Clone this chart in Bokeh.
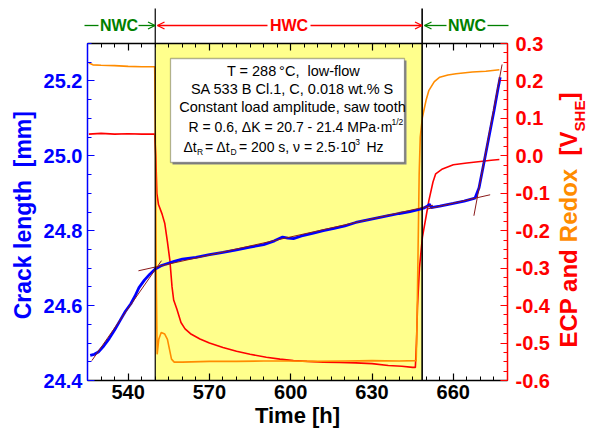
import math
from bokeh.plotting import figure
from bokeh.models import (Range1d, LinearAxis, FixedTicker, PrintfTickFormatter,
                          BoxAnnotation, Label)
from bokeh.core.properties import value
from bokeh.embed import file_html
from bokeh.resources import INLINE

# ---------------- data ----------------
crack_t = [526.0, 527.5, 529.0, 531.0, 533.0, 535.0, 537.0, 539.0, 541.0, 542.5,
           544.0, 546.0, 548.0, 550.0, 552.0, 554.0, 557.0, 560.0, 565.0, 570.0,
           575.0, 580.0, 585.0, 590.0, 594.0, 597.0, 599.0, 601.0, 604.0, 608.0,
           612.0, 616.0, 620.0, 624.0, 628.0, 632.0, 636.0, 640.0, 644.0, 647.0,
           649.0, 650.5, 651.2, 651.8, 655.0, 660.0, 664.0, 668.0, 669.5, 671.0,
           673.0, 675.0, 676.5, 677.3]
crack_mm = [24.467, 24.470, 24.476, 24.492, 24.512, 24.535, 24.560, 24.585, 24.605, 24.625,
            24.648, 24.668, 24.684, 24.698, 24.706, 24.711, 24.718, 24.724, 24.729, 24.736,
            24.742, 24.749, 24.756, 24.763, 24.773, 24.783, 24.780, 24.779, 24.786, 24.793,
            24.800, 24.806, 24.813, 24.822, 24.828, 24.834, 24.840, 24.846, 24.851, 24.856,
            24.860, 24.866, 24.871, 24.862, 24.866, 24.873, 24.879, 24.887, 24.915, 24.970,
            25.045, 25.120, 25.180, 25.210]

# linear fits (start time, start mm, end time, end mm)
fit_t0 = [526.6, 543.8, 650.4, 667.6]
fit_y0 = [24.453, 24.693, 24.858, 24.840]
fit_t1 = [552.3, 652.5, 673.6, 678.0]
fit_y1 = [24.720, 24.868, 24.896, 25.244]

ecp_t = [525.5, 530, 535, 540, 545, 549.8, 550.2, 550.6, 551.2, 552.5, 553.5, 554.5,
         555.4, 556.2, 556.8, 558, 559.5, 561, 563, 566.5, 570, 575, 580, 585, 591,
         596, 601, 606, 612, 618, 624, 630, 636, 641, 645, 646.0, 646.4, 646.8, 647.5,
         648.6, 650, 651, 652.5, 653.5, 656, 660, 665, 670, 674, 677]
ecp_v = [0.058, 0.060, 0.058, 0.059, 0.058, 0.058, 0.0, -0.10, -0.13, -0.155, -0.18, -0.23,
         -0.279, -0.35, -0.385, -0.41, -0.445, -0.462, -0.475, -0.489, -0.50, -0.512, -0.522,
         -0.530, -0.538, -0.543, -0.547, -0.549, -0.551, -0.552, -0.553, -0.555, -0.560,
         -0.562, -0.565, -0.565, -0.50, -0.40, -0.30, -0.217, -0.16, -0.119, -0.07, -0.048,
         -0.035, -0.024, -0.019, -0.015, -0.012, -0.010]

redox_t = [525.5, 527, 530, 535, 540, 545, 549.8, 550.1, 550.4, 550.7, 551.3, 552.2,
           553.5, 554.5, 555.2, 556, 557, 560, 570, 580, 590, 600, 610, 620, 630, 640,
           646.3, 646.6, 647.0, 647.4, 647.8, 648.6, 650, 651, 653, 655, 658, 661, 667,
           672, 677]
redox_v = [0.248, 0.243, 0.242, 0.241, 0.239, 0.238, 0.238, 0.0, -0.35, -0.53, -0.49, -0.472,
           -0.476, -0.49, -0.515, -0.543, -0.551, -0.551, -0.549, -0.549, -0.548, -0.548,
           -0.549, -0.548, -0.547, -0.548, -0.547, -0.45, -0.25, -0.05, 0.05, 0.103, 0.15,
           0.175, 0.198, 0.21, 0.216, 0.219, 0.224, 0.226, 0.230]

hwc_start, hwc_end = 550.0, 648.5

x_ticks = [540, 570, 600, 630, 660]
x_minor = [525 + 5 * i for i in range(32)]
left_ticks = [24.4, 24.6, 24.8, 25.0, 25.2]
left_minor = [round(24.4 + 0.05 * i, 3) for i in range(19)]
right_ticks = [-0.6, -0.5, -0.4, -0.3, -0.2, -0.1, 0.0, 0.1, 0.2, 0.3]
right_minor = [round(-0.6 + 0.025 * i, 4) for i in range(37)]

X0, X1 = 525.0, 680.0
Y0, Y1 = 24.4, 25.3
R0, R1 = -0.6, 0.3

# ---------------- layout helpers (canvas px -> data) ----------------
W, H = 590, 436
FL, FR, FT, FB = 87, 507, 43, 380
def px2x(px):
    return X0 + (px - FL) * (X1 - X0) / (FR - FL)
def py2y(py):
    return Y1 - (py - FT) * (Y1 - Y0) / (FB - FT)
DXPX = (X1 - X0) / (FR - FL)
DYPX = (Y1 - Y0) / (FB - FT)

FONT = "Liberation Sans"
BLUE, RED, ORANGE, GREEN, BROWN = "#0000FF", "#FF0000", "#FF8C00", "#008000", "#8B1A1A"

p = figure(width=W, height=H, output_backend="svg", toolbar_location=None,
           x_range=Range1d(X0, X1), y_range=Range1d(Y0, Y1),
           min_border_left=FL, min_border_right=W - FR, min_border_top=FT,
           min_border_bottom=H - FB)
p.extra_y_ranges = {"ecp": Range1d(R0, R1)}
p.outline_line_color = None
p.xgrid.visible = False
p.ygrid.visible = False
p.background_fill_color = "white"
p.border_fill_color = "white"

# HWC shaded period
p.add_layout(BoxAnnotation(left=hwc_start, right=hwc_end, fill_color="#FFFF8C",
                           fill_alpha=1.0, line_color=None, level="underlay"))

# data lines
p.line(ecp_t, ecp_v, y_range_name="ecp", line_color=RED, line_width=1.6)
p.line(redox_t, redox_v, y_range_name="ecp", line_color=ORANGE, line_width=1.6)
p.line(crack_t, crack_mm, line_color=BLUE, line_width=2.8)
p.segment(x0=fit_t0, y0=fit_y0, x1=fit_t1, y1=fit_y1, line_color=BROWN, line_width=1.0)

# axes
def style_axis(ax, color, ticks, minor, standoff):
    ax.ticker = FixedTicker(ticks=ticks, minor_ticks=minor)
    ax.axis_line_color = color
    ax.major_tick_line_color = color
    ax.minor_tick_line_color = color
    ax.major_tick_in = 7
    ax.major_tick_out = 0
    ax.minor_tick_in = 4
    ax.minor_tick_out = 0
    ax.axis_line_width = 1.5
    ax.major_tick_line_width = 1.2
    ax.minor_tick_line_width = 1.0
    ax.major_label_text_color = color
    ax.major_label_text_font = FONT
    ax.major_label_text_font_style = "bold"
    ax.major_label_text_font_size = "20px"
    ax.major_label_standoff = standoff
    ax.axis_label_text_font = FONT
    ax.axis_label_text_font_style = "bold"
    ax.axis_label_text_font_size = "22px"
    ax.axis_label_text_color = color

xa = p.xaxis[0]
style_axis(xa, "black", x_ticks, x_minor, 4)
xa.axis_label = "Time [h]"
xa.axis_label_standoff = 1

ya = p.yaxis[0]
style_axis(ya, BLUE, left_ticks, left_minor, 5)
ya.formatter = PrintfTickFormatter(format="%.1f")
ya.axis_label = "Crack length \u00a0[mm]\u00a0"
ya.axis_label_text_font_size = "23px"
ya.axis_label_standoff = 5

ra = LinearAxis(y_range_name="ecp")
style_axis(ra, RED, right_ticks, right_minor, 8)
ra.formatter = PrintfTickFormatter(format="%.1f")
p.add_layout(ra, "right")

ta = LinearAxis()
style_axis(ta, "black", x_ticks, x_minor, 0)
ta.major_label_text_font_size = "1px"
ta.major_label_text_color = None
p.add_layout(ta, "above")

# ---- items drawn outside the frame (overlay level glyphs) ----
# right axis label composed of coloured pieces, laid out with bold glyph advance widths
ADV = {"E": .667, "C": .722, "P": .667, " ": .278, "a": .556, "n": .611, "d": .611,
       "R": .722, "e": .556, "o": .611, "x": .556, "[": .333, "V": .667, "S": .667,
       "H": .722, "]": .333}
pieces = [("ECP and ", RED, 24, 568), ("Redox", ORANGE, 24, 568), ("  [V", RED, 24, 568),
          ("SHE", RED, 15, 579), ("]", RED, 24, 568)]
cur = 347.0
for txt, col, size, xx in pieces:
    lead = len(txt) - len(txt.lstrip(" "))
    start = cur - lead * ADV[" "] * size
    p.text(x=[px2x(xx)], y=[py2y(start)], text=[txt.strip()], angle=math.pi / 2,
           text_align="left", text_baseline="middle", text_color=col,
           text_font=value(FONT), text_font_style="bold", text_font_size=f"{size}px",
           level="overlay")
    cur -= sum(ADV[ch] for ch in txt) * size

# vertical boundary lines extending above the frame
p.segment(x0=[hwc_start, hwc_end], y0=[py2y(8), py2y(8)], x1=[hwc_start, hwc_end],
          y1=[Y0, Y0], line_color="black", line_width=[1.2, 1.6], level="overlay")

# period arrows and labels
ay = py2y(25)
seg_px = [(84, 98, GREEN), (138, 154.5, GREEN), (157, 267, RED), (310, 421.5, RED),
          (424, 446, GREEN), (487, 508, GREEN)]
p.segment(x0=[px2x(a) for a, b, c in seg_px], y0=[ay] * len(seg_px),
          x1=[px2x(b) for a, b, c in seg_px], y1=[ay] * len(seg_px),
          line_color=[c for a, b, c in seg_px], line_width=1.3, level="overlay")
heads = [(154.5, 1, GREEN), (157, -1, RED), (421.5, 1, RED), (424, -1, GREEN)]
hx0, hy0, hx1, hy1, hc = [], [], [], [], []
for tip, d, c in heads:
    for s in (1, -1):
        hx0.append(px2x(tip)); hy0.append(ay)
        hx1.append(px2x(tip) - d * 7 * DXPX); hy1.append(ay + s * 3.5 * DYPX)
        hc.append(c)
p.segment(x0=hx0, y0=hy0, x1=hx1, y1=hy1, line_color=hc, line_width=1.3, level="overlay")
p.text(x=[px2x(118.5), px2x(288.5), px2x(466.5)], y=[ay] * 3, text=["NWC", "HWC", "NWC"],
       text_color=[GREEN, RED, GREEN], text_align="center", text_baseline="middle",
       text_font=value(FONT), text_font_style="bold", text_font_size="16px", level="overlay")

# info box
p.add_layout(BoxAnnotation(left=px2x(172), right=px2x(406), top=py2y(60), bottom=py2y(164),
                           fill_color="#888888", fill_alpha=1.0, line_color=None))
p.add_layout(BoxAnnotation(left=px2x(170), right=px2x(404), top=py2y(58), bottom=py2y(162),
                           fill_color="white", fill_alpha=1.0, line_color="black", line_width=1.3))

def boxtext(txt, xp, yp, align="center", size="14.5px"):
    p.add_layout(Label(x=px2x(xp), y=py2y(yp), text=txt, text_align=align,
                       text_baseline="middle", text_color="black", text_font=FONT,
                       text_font_size=size))
boxtext("T = 288\u2009\u00b0C,\u00a0 low-flow", 293, 70)
boxtext("SA 533 B Cl.1, C, 0.018 wt.% S", 292, 88)
boxtext("Constant load amplitude, saw tooth", 292, 106)
boxtext("R = 0.6, \u0394K = 20.7 - 21.4 MPa\u00b7m", 188, 126, "left", "14px")
boxtext("1/2", 391, 121, "left", "8.5px")
boxtext("\u0394t", 183, 146, "left", "14px")
boxtext("R", 196.5, 151, "left", "8.5px")
boxtext("= \u0394t", 204.5, 146, "left", "14px")
boxtext("D", 230, 151, "left", "8.5px")
boxtext("= 200 s, \u03bd = 2.5\u00b710", 238.5, 146, "left", "14px")
boxtext("-3", 352, 141, "left", "8.5px")
boxtext("Hz", 366, 146, "left", "14px")

open("out.html", "w").write(file_html(p, INLINE))
